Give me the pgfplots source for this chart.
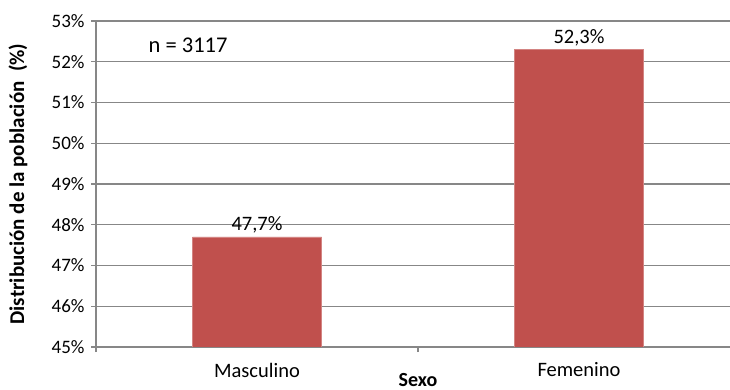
\documentclass[border=0pt]{standalone}
\usepackage{pgfplots}
\pgfplotsset{compat=1.18}
\usepackage{fontspec}
\setmainfont{Carlito}

\definecolor{barred}{HTML}{C0504D}
\definecolor{gridgray}{HTML}{878787}

\begin{document}
\begin{tikzpicture}
\clip (0,0) rectangle (730bp,390bp);
\path[use as bounding box] (0,0) rectangle (730bp,390bp);
\begin{axis}[
  at={(96bp,43bp)}, anchor=south west,
  scale only axis,
  width=644bp, height=326bp,
  xmin=0, xmax=2, ymin=45, ymax=53,
  ytick={45,46,...,53},
  yticklabel={\pgfmathprintnumber{\tick}\%},
  xtick={0,1,2},
  xticklabels={},
  extra x ticks={0.5,1.5},
  extra x tick labels={Masculino,Femenino},
  extra x tick style={major tick length=0pt, tick label style={anchor=center, yshift=-23bp}},
  /pgf/number format/assume math mode=true,
  tick label style={font=\fontsize{20.5bp}{23bp}\selectfont, text=black},
  yticklabel style={font=\fontsize{19bp}{22bp}\selectfont, xshift=-3bp},
  ymajorgrids,
  grid style={gridgray, line width=1.3bp},
  axis line style={gridgray, line width=1.3bp},
  axis x line*=bottom,
  axis y line*=left,
  tick style={gridgray, line width=1.3bp},
  major tick length=5bp,
  tick align=outside,
  ylabel={\textbf{Distribución de la población\ \ (\%)}},
  ylabel style={font=\fontsize{21bp}{24bp}\selectfont, at={(axis description cs:-0.121,0.5)}, anchor=center},
  xlabel={\textbf{Sexo}},
  xlabel style={font=\fontsize{20bp}{22bp}\selectfont, at={(axis description cs:0.5,0)}, anchor=center, yshift=-33bp},
  ybar, bar width=129bp, bar shift=0pt,
  nodes near coords={\pgfmathprintnumber[fixed, precision=1, fixed zerofill, use comma]{\pgfplotspointmeta}\%},
  nodes near coords style={font=\fontsize{20.5bp}{23bp}\selectfont, text=black, inner sep=3.5bp},
]
\addplot[fill=barred, draw=barred!70!white, line width=0.5bp] coordinates {(0.5,47.7) (1.5,52.3)};
\node[font=\fontsize{22.5bp}{25bp}\selectfont, anchor=center] at (axis cs:0.286,52.41) {n = 3117};
\end{axis}
\end{tikzpicture}
\end{document}
